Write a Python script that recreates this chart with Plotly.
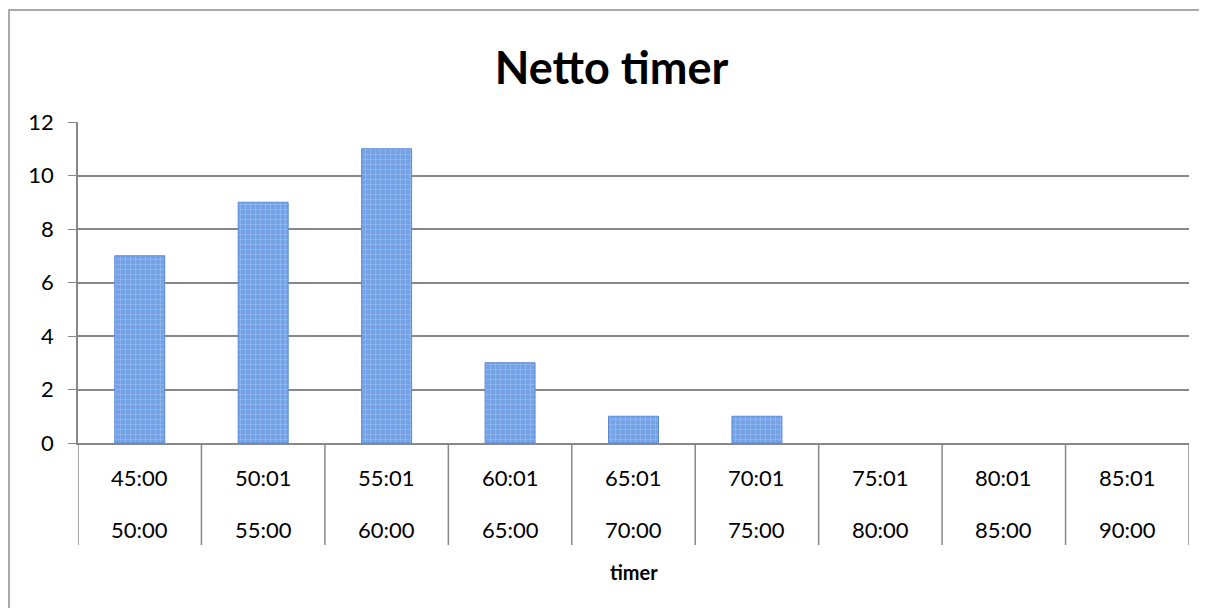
import plotly.graph_objects as go

start_labels = ["45:00", "50:01", "55:01", "60:01", "65:01", "70:01", "75:01", "80:01", "85:01"]
end_labels = ["50:00", "55:00", "60:00", "65:00", "70:00", "75:00", "80:00", "85:00", "90:00"]
counts = [7, 9, 11, 3, 1, 1, 0, 0, 0]
y_ticks = [0, 2, 4, 6, 8, 10, 12]

FONT = "Lato, 'Open Sans', sans-serif"
GRID = "#888888"

idx = list(range(len(counts)))

fig = go.Figure()
fig.add_trace(go.Bar(
    x=idx, y=counts, width=0.405,
    marker=dict(
        color="#74a2e6",
        line=dict(color="#5b8ad8", width=[1 if v > 0 else 0 for v in counts]),
        pattern=dict(shape="+", fillmode="overlay", fgcolor="#bcd2f4", size=5, solidity=0.25),
    ),
    hoverinfo="y",
))

shapes = []
# outer chart border (top & left visible)
shapes.append(dict(type="rect", xref="paper", yref="paper", x0=-0.0621, x1=1.05, y0=-0.7, y1=1.349,
                   line=dict(color="#8c8c8c", width=1.5), fillcolor="rgba(0,0,0,0)", layer="below"))
# category dividers
for i in range(len(counts) + 1):
    shapes.append(dict(type="line", xref="x", yref="paper", x0=i - 0.5, x1=i - 0.5, y0=0, y1=-0.318,
                       line=dict(color=GRID, width=1.5)))

annotations = []
for i, (a, b) in enumerate(zip(start_labels, end_labels)):
    annotations.append(dict(x=i, y=-0.106, xref="x", yref="paper", text=a, showarrow=False,
                            font=dict(family=FONT, size=22, color="#000"), yanchor="middle"))
    annotations.append(dict(x=i, y=-0.268, xref="x", yref="paper", text=b, showarrow=False,
                            font=dict(family=FONT, size=22, color="#000"), yanchor="middle"))
annotations.append(dict(x=0.5, y=-0.402, xref="paper", yref="paper", text="<b>timer</b>", showarrow=False,
                        font=dict(family=FONT, size=20, color="#000"), yanchor="middle"))

fig.update_layout(
    width=1207, height=608,
    margin=dict(l=70, r=26, t=114, b=173),
    paper_bgcolor="white", plot_bgcolor="white",
    title=dict(text="<b>Netto timer</b>", x=0.5, xanchor="center", y=0.901, yanchor="middle",
               font=dict(family=FONT, size=45, color="#000")),
    showlegend=False,
    xaxis=dict(range=[-0.5, len(counts) - 0.5], showticklabels=False, showgrid=False,
               showline=True, linecolor=GRID, linewidth=2, ticks="", zeroline=False, fixedrange=True),
    yaxis=dict(range=[0, 12], tickvals=y_ticks, showgrid=True, gridcolor=GRID, gridwidth=1.5,
               showline=True, linecolor=GRID, linewidth=1.5, ticks="outside", ticklen=8, tickcolor=GRID,
               tickfont=dict(family=FONT, size=22, color="#000"), zeroline=False, ticklabelstandoff=10),
    shapes=shapes, annotations=annotations,
    bargap=0.6,
)

fig.write_html("out.html")
